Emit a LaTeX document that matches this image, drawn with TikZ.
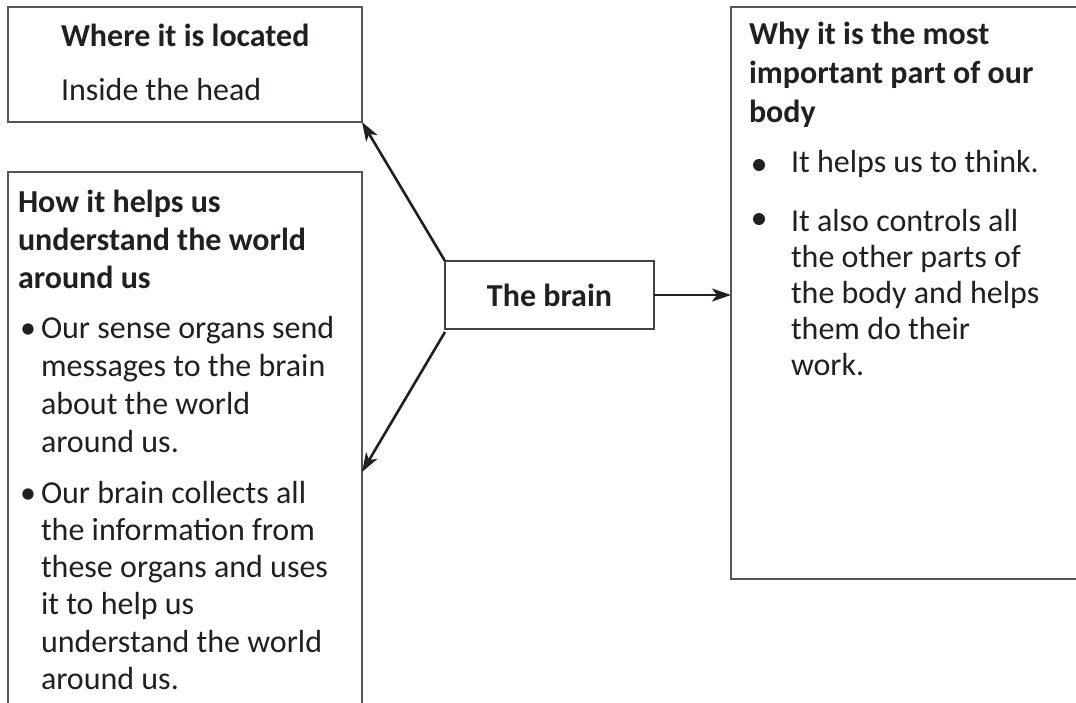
\documentclass[tikz,border=0pt]{standalone}
\usepackage{fontspec}
\setmainfont{Carlito}
\usetikzlibrary{arrows.meta}
\definecolor{ink}{HTML}{231F20}
\definecolor{frame}{HTML}{555555}
\newcommand\mylines[1]{\begin{tabular}[t]{@{}l@{}}#1\end{tabular}}
\begin{document}
\begin{tikzpicture}[x=1pt,y=-1pt,
 box/.style={draw=frame,line width=2pt,rectangle,inner sep=0pt,outer sep=0pt,anchor=north west},
 txt/.style={anchor=base west,inner sep=0pt,outer sep=0pt,text=ink,font=\fontsize{32}{38}\selectfont},
 hd/.style={txt,font=\fontsize{32}{38}\selectfont\bfseries},
 arr/.style={-{Stealth[length=19pt,width=13pt,inset=5pt]},line width=2.6pt,draw=ink},
 dot/.style={circle,fill=ink,inner sep=0pt,minimum size=12pt}]
\useasboundingbox (0,0) rectangle (1076,702);
\clip (0,0) rectangle (1076,702);
% boxes
\node[box,minimum width=354pt,minimum height=115pt] (loc) at (8,7) {};
\node[box,minimum width=354pt,minimum height=560pt] (how) at (8,172) {};
\node[box,minimum width=380pt,minimum height=572pt] (why) at (731,7) {};
\node[box,draw=ink!85,minimum width=209pt,minimum height=68pt,anchor=center,
      font=\fontsize{32}{38}\selectfont\bfseries,text=ink] (brain) at (549.5,295) {The brain};
% texts
\node[hd] (locH) at (61,46) {Where it is located};
\node[txt] (locT) at (61,100) {Inside the head};
\node[hd] (howH) at (18,212) {\mylines{How it helps us\\understand the world\\around us}};
\node[txt] (howB1) at (20,338) {•};
\node[txt] (howT1) at (41,338) {\mylines{Our sense organs send\\messages to the brain\\about the world\\around us.}};
\node[txt] (howB2) at (20,503) {•};
\node[txt,font=\fontsize{32}{37.3}\selectfont] (howT2) at (41,503) {\mylines{Our brain collects all\\the information from\\these organs and uses\\it to help us\\understand the world\\around us.}};
\node[hd,font=\fontsize{32}{39}\selectfont\bfseries] (whyH) at (749,44) {\mylines{Why it is the most\\important part of our\\body}};
\node[dot] (whyB1) at (759,165) {};
\node[txt] (whyT1) at (791,172) {It helps us to think.};
\node[dot] (whyB2) at (759,219) {};
\node[txt,font=\fontsize{32}{36.2}\selectfont] (whyT2) at (791,231) {\mylines{It also controls all\\the other parts of\\the body and helps\\them do their\\work.}};
% connectors
\coordinate (howIn) at (362,472);
\draw[arr] (brain.north west) -- (loc.south east);
\draw[arr] ([yshift=-3pt]brain.south west) -- (howIn);
\draw[arr] (brain.east) -- (brain.east -| why.west);
\end{tikzpicture}
\end{document}
